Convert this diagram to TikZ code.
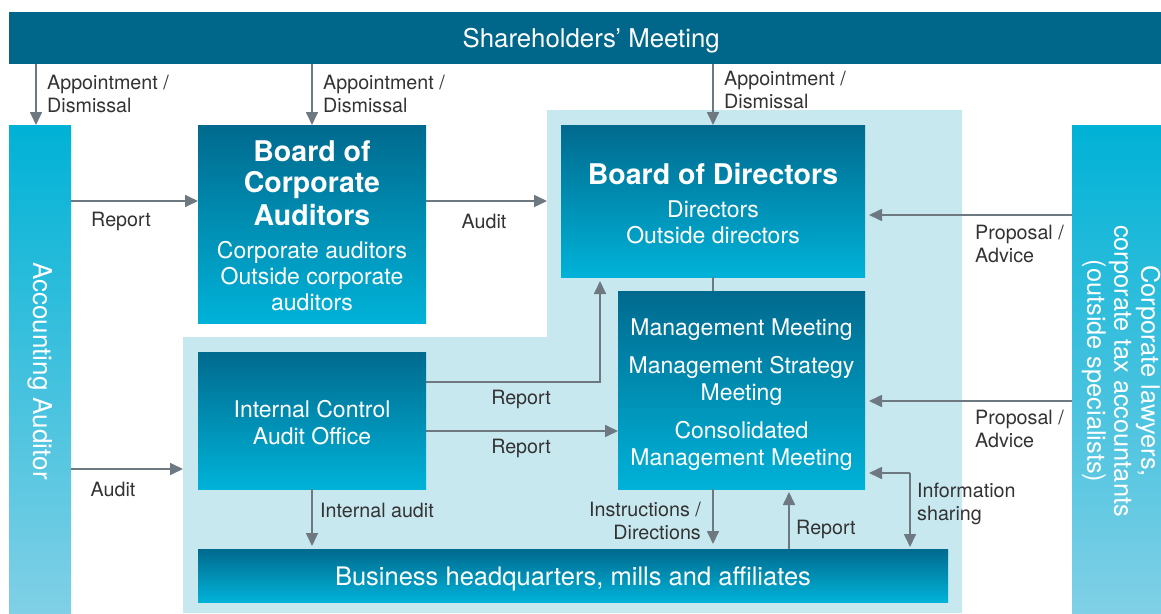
\documentclass[tikz,border=0pt]{standalone}
\usepackage{fontspec}
\setmainfont{TeX Gyre Heros}
\usetikzlibrary{arrows.meta,calc}
\definecolor{topbar}{HTML}{00678B}
\definecolor{boxtop}{HTML}{006A8E}
\definecolor{boxbot}{HTML}{00B2D8}
\definecolor{region}{HTML}{C8E8F0}
\definecolor{sidetop}{HTML}{00B2D6}
\definecolor{sidebot}{HTML}{80D0E6}
\definecolor{arrowgray}{HTML}{6E7880}
\definecolor{labelgray}{HTML}{333333}
\newcommand{\fs}[2]{\fontsize{#1}{#2}\selectfont}
\newcommand{\bt}{\bfseries\fs{28.5}{26}}
\newcommand{\rt}{\mdseries\fs{23}{26}}
\begin{document}
\begin{tikzpicture}[x=1pt,y=-1pt,
  box/.style={inner sep=0pt, outer sep=0pt, top color=boxtop, bottom color=boxbot, anchor=north west},
  boxtext/.style={text=white, align=center, inner sep=0pt, font=\fs{23}{26}},
  side/.style={inner sep=0pt, outer sep=0pt, top color=sidetop, bottom color=sidebot, anchor=north west},
  sidetext/.style={text=white, rotate=-90, align=center, inner sep=0pt},
  arr/.style={draw=arrowgray, line width=1.7pt, -{Triangle[length=13pt,width=12pt]}},
  plain/.style={draw=arrowgray, line width=1.7pt},
  lbl/.style={text=labelgray, font=\fs{19.7}{22.5}, align=left, inner sep=0pt}]
\useasboundingbox (0,0) rectangle (1161,613);
% light region
\coordinate (lrUL) at (547,110);
\coordinate (lrL) at (183,337);
\fill[region] (lrUL) -- (962,110) -- (962,613) -- (183,613) -- (lrL) -- (547,337) -- cycle;
% boxes
\node[inner sep=0pt, anchor=north west, fill=topbar, minimum width=1152pt, minimum height=52pt] (sh) at (9,12) {};
\node[text=white, inner sep=0pt, font=\fs{25.8}{28}] (sht) at ([xshift=6pt,yshift=-2pt]sh.center) {Shareholders’ Meeting};
\node[side, minimum width=62pt, minimum height=488pt] (aa) at (9,125) {};
\node[sidetext, font=\fs{26}{28}] (aat) at (40,371) {Accounting Auditor};
\node[side, minimum width=89pt, minimum height=488pt] (cl) at (1072,125) {};
\node[sidetext, font=\fs{25.4}{27}] (clt) at (1121,371) {Corporate lawyers,\\corporate tax accountants\\(outside specialists)};
\node[box, minimum width=228pt, minimum height=198pt] (bca) at (198,125) {};
\node[boxtext] (bcat) at ([yshift=-2pt]bca.center)
  {\bt Board of\\[5pt]\bt Corporate\\[4pt]\bt Auditors\\[7pt]\rt Corporate auditors\\\rt Outside corporate\\\rt auditors};
\node[box, minimum width=304pt, minimum height=152pt] (bod) at (561,125) {};
\node[boxtext] (bodt) at ([yshift=-3pt]bod.center)
  {\bt Board of Directors\\[7pt]\rt Directors\\\rt Outside directors};
\node[box, minimum width=247pt, minimum height=198pt] (mm) at (618,291) {};
\node[boxtext, font=\fs{23}{27}] (mmt) at ([yshift=-5pt]mm.center)
  {Management Meeting\\[11pt]Management Strategy\\Meeting\\[11pt]Consolidated\\Management Meeting};
\node[box, minimum width=228pt, minimum height=137pt] (icao) at (198,352) {};
\node[boxtext, font=\fs{23}{27}] (icaot) at ([yshift=-2pt]icao.center) {Internal Control\\Audit Office};
\node[box, minimum width=750pt, minimum height=53pt] (bhq) at (198,549) {};
\node[boxtext, font=\fs{25.5}{27}] (bhqt) at ([yshift=-3pt]bhq.center) {Business headquarters, mills and affiliates};
% helper coordinates
\coordinate (r1) at (0,201);
\coordinate (r2) at (0,469);
\coordinate (p1) at (0,215);
\coordinate (p2) at (0,401);
\coordinate (r3) at (0,382);
\coordinate (r4) at (0,431);
\coordinate (up) at (600,0);
\coordinate (is) at (910,473);
\coordinate (rb) at (789,0);
% connectors
\draw[arr] ([xshift=-4pt]aa.north |- sh.south) -- ([xshift=-4pt]aa.north);
\draw[arr] (bca.north |- sh.south) -- (bca.north);
\draw[arr] (bod.north |- sh.south) -- (bod.north);
\draw[arr] (aa.east |- r1) -- (bca.west |- r1);
\draw[arr] (bca.east |- r1) -- (lrUL |- r1);
\draw[arr] (aa.east |- r2) -- (lrL |- r2);
\draw[plain] (bod.south) -- (bod.south |- mm.north);
\draw[arr, shorten >=4pt] (cl.west |- p1) -- (bod.east |- p1);
\draw[arr, shorten >=4pt] (cl.west |- p2) -- (mm.east |- p2);
\draw[arr, shorten >=4pt] (is) -- (mm.east |- is);
\draw[arr, shorten >=2pt] (is) -- (is |- bhq.north);
\draw[arr, shorten >=4pt] (icao.east |- r3) -| (up |- bod.south);
\draw[arr] (icao.east |- r4) -- (mm.west |- r4);
\draw[arr, shorten >=3pt] (icao.south) -- (icao.south |- bhq.north);
\draw[arr, shorten >=5pt] (bod.south |- mm.south) -- (bod.south |- bhq.north);
\draw[arr, shorten >=3pt] (rb |- bhq.north) -- (rb |- mm.south);
% labels
\node[lbl, anchor=west] (l1) at (47,94) {Appointment /\\Dismissal};
\node[lbl, anchor=west] (l2) at (323,94) {Appointment /\\Dismissal};
\node[lbl, anchor=west] (l3) at (724,90) {Appointment /\\Dismissal};
\node[lbl] (l4) at (121,221) {Report};
\node[lbl] (l5) at (484,221) {Audit};
\node[lbl] (l6) at (113,489) {Audit};
\node[lbl, anchor=west] (l7) at (975,244) {Proposal /\\Advice};
\node[lbl, anchor=west] (l8) at (975,429) {Proposal /\\Advice};
\node[lbl, anchor=west] (l9) at (917,504) {Information\\sharing};
\node[lbl] (l10) at (521,399) {Report};
\node[lbl] (l11) at (521,448) {Report};
\node[lbl, anchor=west] (l12) at (320,510) {Internal audit};
\node[lbl, anchor=east, align=right] (l13) at (701,521) {Instructions /\\Directions};
\node[lbl, anchor=west] (l14) at (796,529) {Report};
\end{tikzpicture}
\end{document}
